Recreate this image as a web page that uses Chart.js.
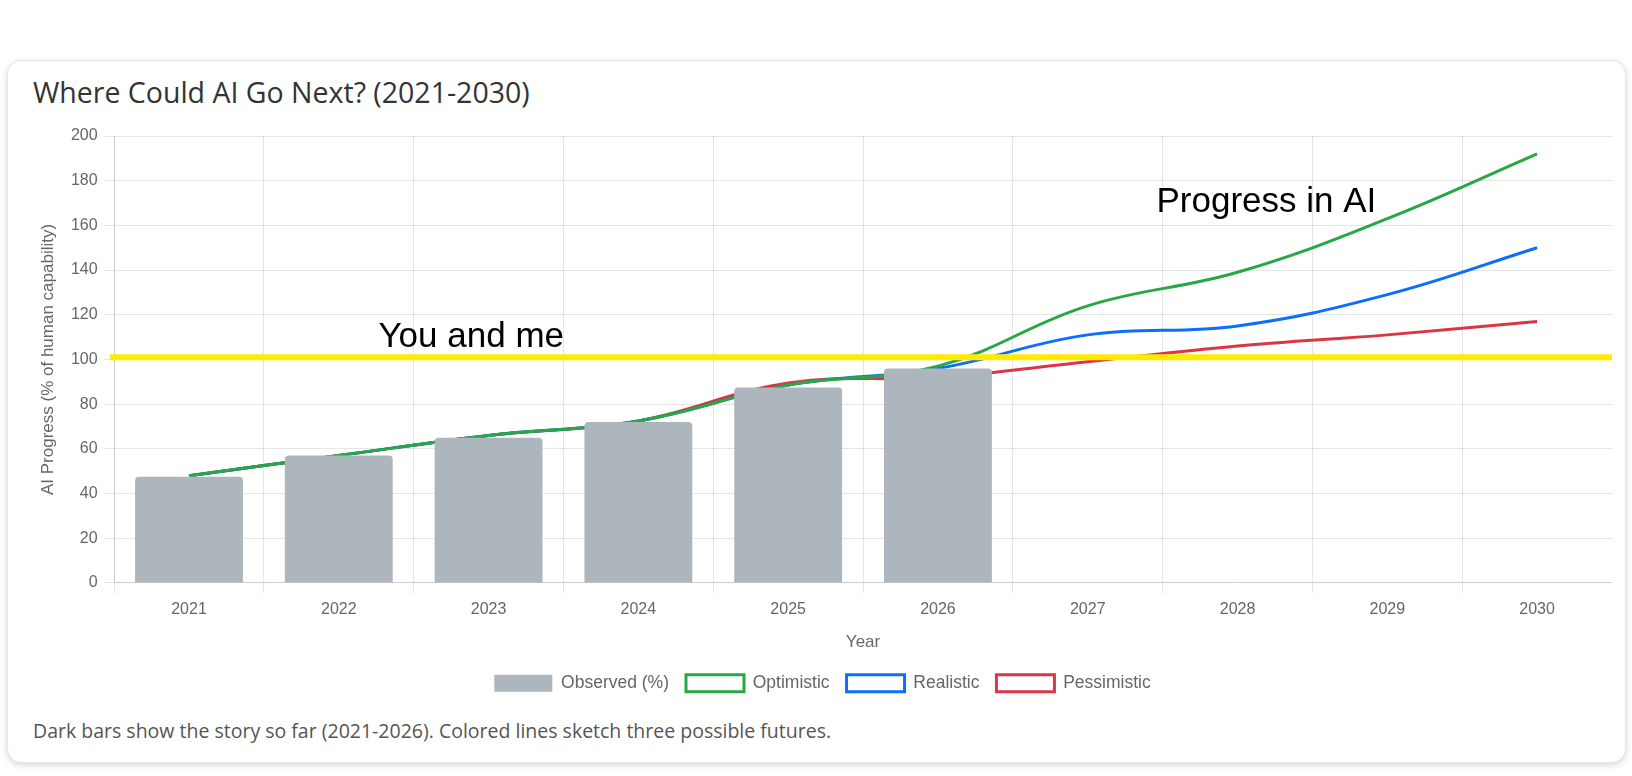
<!DOCTYPE html>
<html>
<head>
<meta charset="utf-8">
<script src="https://cdn.jsdelivr.net/npm/chart.js@4.4.1/dist/chart.umd.min.js"></script>
<style>
  html, body { margin: 0; padding: 0; background: #ffffff; }
  body { width: 1632px; height: 776px; position: relative; overflow: hidden; }
  .card {
    position: absolute; left: 7px; top: 60px; width: 1619px; height: 703px;
    box-sizing: border-box; border: 1px solid #e6e6e6; border-radius: 14px;
    background: #fff; box-shadow: 0 2px 6px rgba(0,0,0,0.16);
  }
  .title {
    position: absolute; left: 25px; top: 14.4px; margin: 0;
    font-family: 'Open Sans', sans-serif; font-size: 28.5px; line-height: 34px;
    font-weight: 400; color: #333; white-space: nowrap;
  }
  .wrap { position: absolute; left: 25px; top: 50px; width: 1579px; height: 593px; }
  .caption {
    position: absolute; left: 25px; top: 658.2px; margin: 0;
    font-family: 'Open Sans', sans-serif; font-size: 19.5px; line-height: 24px;
    color: #555; white-space: nowrap;
  }
</style>
</head>
<body>
<div class="card">
  <div class="title">Where Could AI Go Next? (2021-2030)</div>
  <div class="wrap"><canvas id="c"></canvas></div>
  <p class="caption">Dark bars show the story so far (2021-2026). Colored lines sketch three possible futures.</p>
</div>
<script>
// ---- data ----
const years = ['2021', '2022', '2023', '2024', '2025', '2026', '2027', '2028', '2029', '2030'];
const observed = [47.5, 57, 65, 72, 87.5, 96, null, null, null, null];
const optimistic = [48, 57, 66, 72.5, 88.5, 97, 124, 139, 163, 192];
const realistic = [48, 57, 66, 72.5, 88.5, 96, 111, 115, 129, 150];
const pessimistic = [48, 57, 66, 72.5, 89.5, 92, 99, 106, 111, 117];
const seriesNames = ['Observed (%)', 'Optimistic', 'Realistic', 'Pessimistic'];
const yAxisTitle = 'AI Progress (% of human capability)';
const xAxisTitle = 'Year';

// annotation texts and the reference level (data units)
const thresholdValue = 101;
const noteTexts = ['You and me', 'Progress in AI'];
const noteIndex = [1.265, 6.459];
const noteValue = [105.7, 166.1];

const annotate = {
  id: 'annotate',
  afterDraw(chart) {
    const {ctx, chartArea, scales} = chart;
    const x = scales.x, y = scales.y;
    ctx.save();
    const yy = y.getPixelForValue(thresholdValue);
    ctx.strokeStyle = '#ffea00';
    ctx.lineWidth = 6;
    ctx.beginPath();
    ctx.moveTo(chartArea.left - 4, yy);
    ctx.lineTo(chartArea.right, yy);
    ctx.stroke();
    ctx.fillStyle = '#000';
    ctx.font = "35px 'Liberation Sans', Arial, sans-serif";
    ctx.textAlign = 'left';
    ctx.textBaseline = 'alphabetic';
    noteTexts.forEach((t, i) => {
      ctx.fillText(t, x.getPixelForValue(noteIndex[i]), y.getPixelForValue(noteValue[i]));
    });
    ctx.restore();
  }
};

Chart.defaults.font.family = "'Liberation Sans', Arial, Helvetica, sans-serif";
Chart.defaults.color = '#666';

new Chart(document.getElementById('c'), {
  type: 'bar',
  data: {
    labels: years,
    datasets: [
      { type: 'bar', label: seriesNames[0], data: observed, backgroundColor: '#adb5bd',
        borderWidth: 0, borderRadius: 4 },
      { type: 'line', label: seriesNames[1], data: optimistic, borderColor: '#28a745',
        backgroundColor: 'rgba(255,255,255,0)', borderWidth: 3, tension: 0.4, pointRadius: 0, fill: false },
      { type: 'line', label: seriesNames[2], data: realistic, borderColor: '#0d6efd',
        backgroundColor: 'rgba(255,255,255,0)', borderWidth: 3, tension: 0.4, pointRadius: 0, fill: false },
      { type: 'line', label: seriesNames[3], data: pessimistic, borderColor: '#dc3545',
        backgroundColor: 'rgba(255,255,255,0)', borderWidth: 3, tension: 0.4, pointRadius: 0, fill: false }
    ]
  },
  options: {
    responsive: true,
    maintainAspectRatio: false,
    animation: false,
    layout: { padding: { top: 25, bottom: 2, left: 0, right: 0 } },
    plugins: {
      legend: {
        position: 'bottom',
        labels: { boxWidth: 58, boxHeight: 17, padding: 17, font: { size: 17.5 }, color: '#666' }
      },
      tooltip: { enabled: false }
    },
    scales: {
      x: {
        grid: { tickLength: 10, color: 'rgba(0,0,0,0.1)' },
        ticks: { padding: 7.5, font: { size: 16 } },
        title: { display: true, text: xAxisTitle, font: { size: 17 }, padding: { top: 5, bottom: 5 } }
      },
      y: {
        min: 0, max: 200,
        grid: { tickLength: 10, color: 'rgba(0,0,0,0.1)' },
        ticks: { stepSize: 20, padding: 6.5, font: { size: 16 } },
        title: { display: true, text: yAxisTitle, font: { size: 17 }, padding: { top: 5.5, bottom: 5.5 } }
      }
    }
  },
  plugins: [annotate]
});
</script>
</body>
</html>
